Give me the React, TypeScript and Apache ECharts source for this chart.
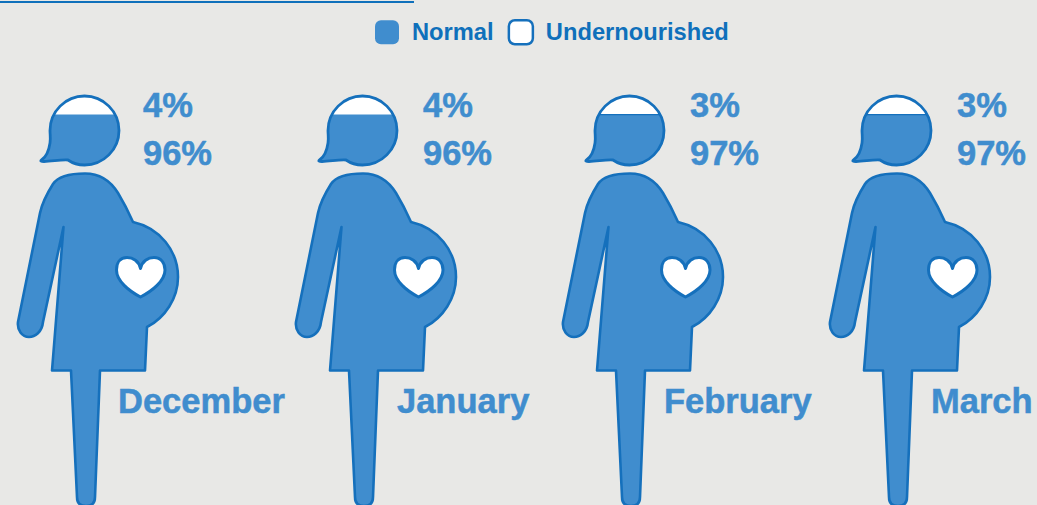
import React, { useEffect, useRef } from "react";
import * as echarts from "echarts";

const months = ["December", "January", "February", "March"];
const normal = [96, 96, 97, 97];
const undernourished = [4, 4, 3, 3];

const FIGURE_X = [0, 278, 545, 812];
const PCT_X = [143, 423, 690, 957];
const MONTH_X = [118, 397, 664, 931];
const HAS_RULE = [false, false, true, true];

const BG = "#e8e8e6";
const FILL = "#408dce";
const STROKE = "#1570bc";
const TEXT = "#0f70bb";
const FONT = '"Liberation Sans", Arial, sans-serif';

const HEAD =
  "M68 160C73 163.5 79 165 84.5 165C103.5 165 119 149.5 119 130.5C119 111.5 103.5 96 84.5 96C65.5 96 50 111.5 50 130.5C50 135 50.8 138 50 143C49 150 46 157 41.5 160C40 161 41 161.5 44 161.5C52 161.5 60 159.5 68 160Z";
const BODY =
  "M85 173.5C100 173.5 110 180 118 193C124 203 129 213 133 222C160 228 178 251 178 277C178 298 165 318 147 327L145 370.5L100 370.5L95 497C95 503 92 506 86 506C80 506 77 503 77 497L71 370.5L52 370.5L63.5 227L43 322C42 332 35 337 29 337C22 337 17 330 18 322L40 213C42.5 201 48 192 53 184C59 175 72 173.5 85 173.5Z";
const HEART =
  "M140.5 268.5C142 261 148 257.5 154 257.5C161 257.5 165 263 165 270C165 281 152 291 140.5 297C129 291 116.5 281 116.5 270C116.5 263 120 257.5 127 257.5C133 257.5 139 261 140.5 268.5Z";

const label = (text: string, x: number, y: number) => ({
  type: "text",
  style: {
    text,
    x,
    y,
    fill: FILL,
    stroke: FILL,
    lineWidth: 0.5,
    font: `bold 34.5px ${FONT}`,
    verticalAlign: "middle",
    align: "left",
  },
});

const renderUnder = (_: any, api: any) => {
  const i = api.value(0);
  return {
    type: "group",
    children: [
      {
        type: "group",
        x: FIGURE_X[i],
        children: [
          { type: "path", shape: { pathData: HEAD }, style: { fill: "#ffffff", stroke: "none" } },
        ],
      },
      label(`${api.value(1)}%`, PCT_X[i], 105),
    ],
  };
};

const renderNormal = (_: any, api: any) => {
  const i = api.value(0);
  const level = api.coord([i, api.value(1)])[1];
  const children: any[] = [
    {
      type: "path",
      shape: { pathData: HEAD },
      style: { fill: FILL, stroke: "none" },
      clipPath: { type: "rect", shape: { x: 0, y: level, width: 200, height: 100 } },
    },
  ];
  if (HAS_RULE[i]) {
    children.push({
      type: "path",
      shape: { pathData: HEAD },
      style: { fill: STROKE, stroke: "none" },
      clipPath: { type: "rect", shape: { x: 0, y: level, width: 200, height: 1.2 } },
    });
  }
  children.push(
    { type: "path", shape: { pathData: HEAD }, style: { fill: "none", stroke: STROKE, lineWidth: 2.8, lineJoin: "round" } },
    { type: "path", shape: { pathData: BODY }, style: { fill: FILL, stroke: STROKE, lineWidth: 2.6, lineJoin: "round" } },
    { type: "path", shape: { pathData: HEART }, style: { fill: "#ffffff", stroke: STROKE, lineWidth: 3, lineJoin: "round" } },
  );
  return {
    type: "group",
    children: [
      { type: "group", x: FIGURE_X[i], children },
      label(`${api.value(1)}%`, PCT_X[i], 153),
      label(months[i], MONTH_X[i], 401),
    ],
  };
};

export default function App() {
  const ref = useRef<HTMLDivElement>(null);
  useEffect(() => {
    document.body.style.margin = "0";
    const chart = echarts.init(ref.current!, undefined, { renderer: "svg" });
    chart.setOption({
      animation: false,
      backgroundColor: BG,
      grid: { left: 0, right: 0, top: 112.5, height: 53 },
      xAxis: { type: "category", data: months, show: false },
      yAxis: { type: "value", min: 0, max: 100, show: false },
      legend: {
        left: 370,
        top: 14,
        padding: 5,
        itemWidth: 24,
        itemHeight: 24,
        itemGap: 14,
        icon: "roundRect",
        selectedMode: false,
        textStyle: {
          color: TEXT,
          fontFamily: FONT,
          fontWeight: "bold",
          fontSize: 23.7,
          padding: [0, 0, 0, 8],
        },
        data: [
          { name: "Normal", itemStyle: { color: FILL, borderWidth: 0 } },
          { name: "Undernourished", itemStyle: { color: "#ffffff", borderColor: STROKE, borderWidth: 2.5 } },
        ],
      },
      graphic: [
        {
          type: "line",
          shape: { x1: 0, y1: 2, x2: 414, y2: 2 },
          style: { stroke: TEXT, lineWidth: 2 },
        },
      ],
      series: [
        {
          name: "Undernourished",
          type: "custom",
          renderItem: renderUnder,
          silent: true,
          itemStyle: { color: "#ffffff" },
          data: undernourished.map((v, i) => [i, v]),
        },
        {
          name: "Normal",
          type: "custom",
          renderItem: renderNormal,
          silent: true,
          itemStyle: { color: FILL },
          data: normal.map((v, i) => [i, v]),
        },
      ],
    });
    return () => chart.dispose();
  }, []);
  return <div ref={ref} style={{ width: 1037, height: 505 }} />;
}
